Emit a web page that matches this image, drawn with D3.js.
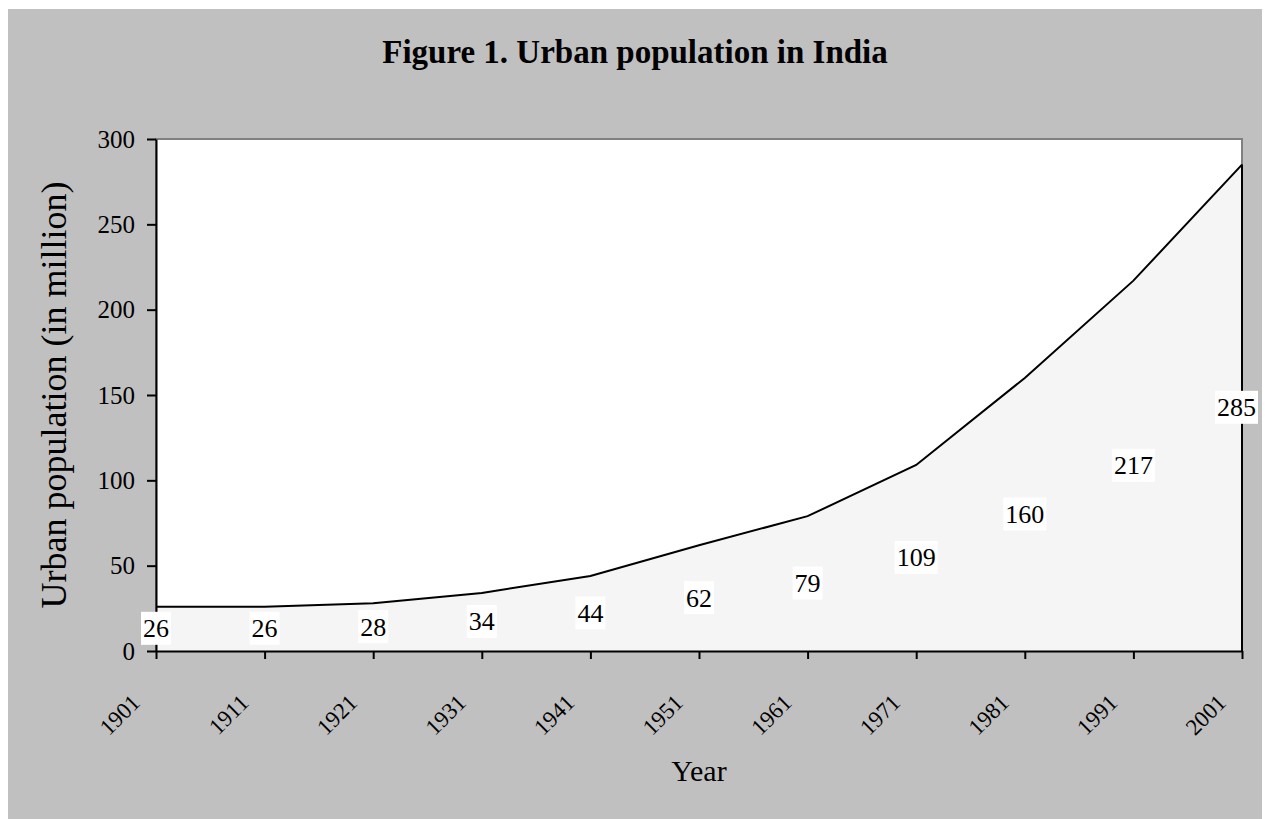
<!DOCTYPE html>
<html>
<head>
<meta charset="utf-8">
<script src="https://cdn.jsdelivr.net/npm/d3@7"></script>
<style>
  html, body { margin: 0; padding: 0; background: #ffffff; }
  svg { display: block; }
  text { font-family: "Liberation Serif", "Times New Roman", Times, serif; fill: #000; }
</style>
</head>
<body>
<svg id="chart" width="1265" height="819"></svg>
<script>
// Census years and urban population (millions)
const years = ["1901", "1911", "1921", "1931", "1941", "1951", "1961", "1971", "1981", "1991", "2001"];
const urbanPop = [26, 26, 28, 34, 44, 62, 79, 109, 160, 217, 285];
const yTicks = [0, 50, 100, 150, 200, 250, 300];

const titleText = "Figure 1. Urban population in India";
const xTitle = "Year";
const yTitle = "Urban population (in million)";

const W = 1265, H = 819;
const plot = { left: 156, right: 1242, top: 139, bottom: 651 };

const svg = d3.select("#chart");

// outer chart frame
svg.append("rect")
  .attr("x", 8).attr("y", 9)
  .attr("width", 1254).attr("height", H - 9)
  .attr("fill", "#c0c0c0");

const x = d3.scalePoint().domain(years).range([plot.left, plot.right]).padding(0);
const y = d3.scaleLinear().domain([0, 300]).range([plot.bottom, plot.top]);

// plot background with grey frame
svg.append("rect")
  .attr("x", plot.left).attr("y", plot.top)
  .attr("width", plot.right - plot.left).attr("height", plot.bottom - plot.top)
  .attr("fill", "#ffffff")
  .attr("stroke", "#808080").attr("stroke-width", 2);

const data = years.map((yr, i) => ({ year: yr, value: urbanPop[i] }));

// filled area under the curve
const area = d3.area()
  .x(d => x(d.year))
  .y0(y(0))
  .y1(d => y(d.value));

svg.append("path")
  .datum(data)
  .attr("d", area)
  .attr("fill", "#f5f5f5")
  .attr("stroke", "none");

// top outline of the area
svg.append("path")
  .datum(data)
  .attr("d", d3.line().x(d => x(d.year)).y(d => y(d.value)))
  .attr("fill", "none")
  .attr("stroke", "#000")
  .attr("stroke-width", 2);

// right edge of the area
const last = data[data.length - 1];
svg.append("line")
  .attr("x1", x(last.year)).attr("x2", x(last.year))
  .attr("y1", y(last.value)).attr("y2", y(0))
  .attr("stroke", "#000").attr("stroke-width", 2);

// y axis
const yAxis = svg.append("g")
  .attr("transform", `translate(${plot.left},0)`)
  .call(d3.axisLeft(y).tickValues(yTicks).tickSize(9).tickSizeOuter(0).tickPadding(12));
yAxis.select(".domain").attr("stroke", "#000").attr("stroke-width", 2);
yAxis.selectAll(".tick line").attr("stroke", "#000").attr("stroke-width", 2);
yAxis.selectAll(".tick text")
  .style("font-family", '"Liberation Serif", "Times New Roman", serif')
  .style("font-size", "25px");

// x axis
const xAxis = svg.append("g")
  .attr("transform", `translate(0,${plot.bottom})`)
  .call(d3.axisBottom(x).tickSize(8).tickSizeOuter(0));
xAxis.select(".domain").attr("stroke", "#000").attr("stroke-width", 2);
xAxis.selectAll(".tick line").attr("stroke", "#000").attr("stroke-width", 2);
xAxis.selectAll(".tick text")
  .attr("x", 0).attr("y", 0).attr("dy", 0)
  .attr("text-anchor", "end")
  .attr("transform", "translate(-15,53) rotate(-45)")
  .style("font-family", '"Liberation Serif", "Times New Roman", serif')
  .style("font-size", "23px");

// value labels, placed halfway up each point, on white boxes
const labels = svg.append("g");
data.forEach(d => {
  const g = labels.append("g");
  const t = g.append("text")
    .attr("text-anchor", "middle")
    .attr("dominant-baseline", "central")
    .style("font-size", "26px")
    .text(d.value);
  const bb = t.node().getBBox();
  const padX = 2;
  let cx = x(d.year);
  const maxRight = 1258;
  if (cx + bb.width / 2 + padX > maxRight) cx = maxRight - bb.width / 2 - padX;
  const cy = y(d.value / 2);
  t.attr("x", cx).attr("y", cy);
  g.insert("rect", "text")
    .attr("x", cx - bb.width / 2 - padX)
    .attr("y", cy - 17)
    .attr("width", bb.width + 2 * padX)
    .attr("height", 33)
    .attr("fill", "#ffffff");
});

// titles
svg.append("text")
  .attr("x", 635).attr("y", 63)
  .attr("text-anchor", "middle")
  .style("font-size", "33px")
  .style("font-weight", "bold")
  .text(titleText);

svg.append("text")
  .attr("x", 699).attr("y", 781)
  .attr("text-anchor", "middle")
  .style("font-size", "30px")
  .text(xTitle);

svg.append("text")
  .attr("transform", `translate(66,${(plot.top + plot.bottom) / 2}) rotate(-90)`)
  .attr("text-anchor", "middle")
  .style("font-size", "36px")
  .text(yTitle);
</script>
</body>
</html>
